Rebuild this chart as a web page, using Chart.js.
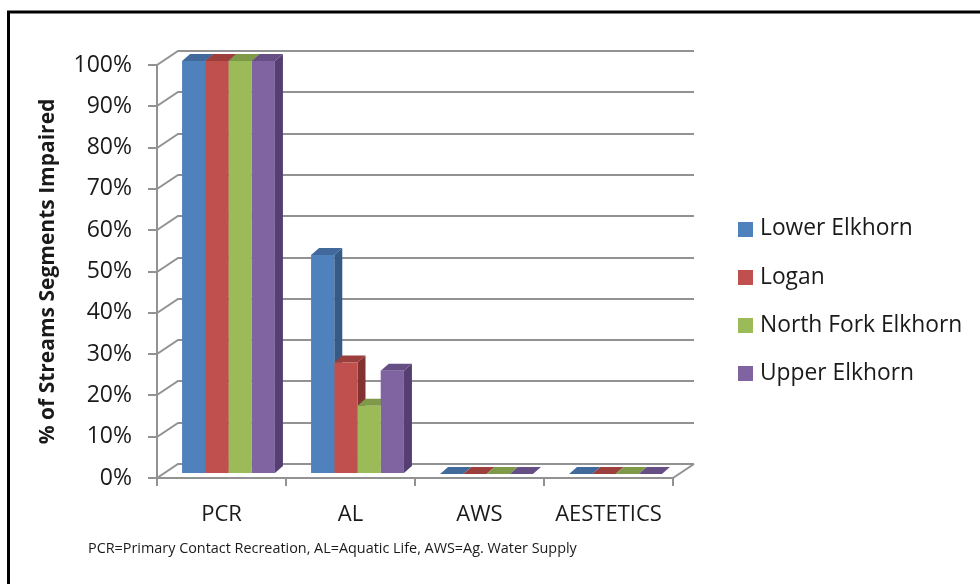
<!DOCTYPE html>
<html>
<head>
<meta charset="utf-8">
<script src="https://cdn.jsdelivr.net/npm/chart.js@4/dist/chart.umd.min.js"></script>
<style>
html,body{margin:0;padding:0;background:#fff;}
#wrap{width:980px;height:584px;position:relative;}
</style>
</head>
<body>
<div id="wrap"><canvas id="c" width="980" height="584"></canvas></div>
<script>
// ---- data ----
const categories = ['PCR', 'AL', 'AWS', 'AESTETICS'];
const seriesNames = ['Lower Elkhorn', 'Logan', 'North Fork Elkhorn', 'Upper Elkhorn'];
const lowerElkhorn = [1.00, 0.53, 0, 0];
const logan = [1.00, 0.27, 0, 0];
const northForkElkhorn = [1.00, 0.165, 0, 0];
const upperElkhorn = [1.00, 0.25, 0, 0];
const yTickValues = [0, 0.1, 0.2, 0.3, 0.4, 0.5, 0.6, 0.7, 0.8, 0.9, 1.0];
const yTitle = '% of Streams Segments Impaired';
const footnote = 'PCR=Primary Contact Recreation, AL=Aquatic Life, AWS=Ag. Water Supply';

// ---- styles ----
const frontColors = ['#4F81BD', '#C0504D', '#9BBB59', '#8064A2'];
const topColors = ['#41699B', '#9B3E3C', '#7E9A48', '#664F85'];
const sideColors = ['#355A86', '#833230', '#6C873B', '#553F72'];
const GRID = '#929292';
const TEXT = '#1a1a1a';
const FONT = "'Open Sans', 'Noto Sans', sans-serif";
const WALL_DX = 21, WALL_DY = -14;
const BAR_DX = 7, BAR_DY = -4, BAR_DEPTH_X = 8, BAR_DEPTH_Y = -7;

const seriesValues = [lowerElkhorn, logan, northForkElkhorn, upperElkhorn];

const threeD = {
  id: 'threeD',
  beforeDraw(chart) {
    const {ctx, chartArea: a, scales: {y}} = chart;
    ctx.save();
    ctx.fillStyle = '#fff';
    ctx.fillRect(0, 0, chart.width, chart.height);
    ctx.strokeStyle = GRID;
    ctx.lineWidth = 2;
    yTickValues.forEach(v => {
      const py = Math.round(y.getPixelForValue(v));
      ctx.beginPath();
      ctx.moveTo(a.left, py);
      ctx.lineTo(a.left + WALL_DX, py + WALL_DY);
      ctx.lineTo(a.right + WALL_DX, py + WALL_DY);
      ctx.stroke();
    });
    ctx.beginPath();
    ctx.moveTo(a.right, a.bottom);
    ctx.lineTo(a.right + WALL_DX, a.bottom + WALL_DY);
    ctx.stroke();
    ctx.restore();
  },
  beforeDatasetsDraw(chart) {
    const ctx = chart.ctx;
    ctx.save();
    ctx.translate(BAR_DX, BAR_DY);
    const n = chart.data.labels.length;
    for (let i = 0; i < n; i++) {
      chart.data.datasets.forEach((ds, di) => {
        const el = chart.getDatasetMeta(di).data[i];
        const {x, y, base, width} = el.getProps(['x', 'y', 'base', 'width'], true);
        const l = x - width / 2, r = x + width / 2;
        ctx.fillStyle = sideColors[di];
        ctx.beginPath();
        ctx.moveTo(r, y);
        ctx.lineTo(r + BAR_DEPTH_X, y + BAR_DEPTH_Y);
        ctx.lineTo(r + BAR_DEPTH_X, base + BAR_DEPTH_Y);
        ctx.lineTo(r, base);
        ctx.closePath();
        ctx.fill();
        ctx.fillStyle = topColors[di];
        ctx.beginPath();
        ctx.moveTo(l, y);
        ctx.lineTo(l + BAR_DEPTH_X, y + BAR_DEPTH_Y);
        ctx.lineTo(r + BAR_DEPTH_X, y + BAR_DEPTH_Y);
        ctx.lineTo(r, y);
        ctx.closePath();
        ctx.fill();
      });
    }
    ctx.restore();
    ctx.save();
    ctx.translate(BAR_DX, BAR_DY);
  },
  afterDatasetsDraw(chart) {
    chart.ctx.restore();
  },
  afterDraw(chart) {
    const ctx = chart.ctx;
    ctx.save();
    // legend
    ctx.font = "22.8px " + FONT;
    ctx.textBaseline = 'middle';
    ctx.textAlign = 'left';
    chart.data.datasets.forEach((ds, di) => {
      const cy = 229 + di * 48.3;
      ctx.fillStyle = ds.backgroundColor;
      ctx.fillRect(738, Math.round(cy - 7.5), 15, 15);
      ctx.fillStyle = TEXT;
      ctx.fillText(ds.label, 760, cy);
    });
    // footnote
    ctx.font = "14.4px " + FONT;
    ctx.fillStyle = TEXT;
    ctx.fillText(footnote, 88, 549);
    // frame
    ctx.strokeStyle = '#000';
    ctx.lineWidth = 3;
    ctx.beginPath();
    ctx.moveTo(8.5, chart.height);
    ctx.lineTo(8.5, 12);
    ctx.lineTo(chart.width, 12);
    ctx.stroke();
    ctx.restore();
  }
};

new Chart(document.getElementById('c'), {
  type: 'bar',
  data: {
    labels: categories,
    datasets: seriesNames.map((name, i) => ({
      label: name,
      data: seriesValues[i],
      backgroundColor: frontColors[i],
      borderWidth: 0,
      categoryPercentage: 0.72,
      barPercentage: 1.0,
      clip: false
    }))
  },
  options: {
    responsive: false,
    animation: false,
    devicePixelRatio: 1,
    layout: {padding: {left: 31, top: 65, right: 307, bottom: 0}},
    plugins: {legend: {display: false}, title: {display: false}, tooltip: {enabled: false}},
    scales: {
      x: {
        grid: {display: true, drawOnChartArea: false, drawTicks: true, tickLength: 8, offset: true, color: GRID, lineWidth: 2},
        border: {display: true, color: GRID, width: 2},
        ticks: {font: {family: FONT, size: 22}, color: TEXT, padding: 16, maxRotation: 0, autoSkip: false},
        afterFit(s) { s.height = 106; }
      },
      y: {
        min: 0, max: 1,
        afterBuildTicks(s) { s.ticks = yTickValues.map(v => ({value: v})); },
        grid: {display: true, drawOnChartArea: false, drawTicks: true, tickLength: 9, color: GRID, lineWidth: 2},
        border: {display: true, color: GRID, width: 2},
        ticks: {font: {family: FONT, size: 23}, color: TEXT, padding: 16, callback: v => Math.round(v * 100) + '%'},
        title: {display: true, text: yTitle, font: {family: FONT, size: 21, weight: 'bold'}, color: TEXT, padding: {top: 4, bottom: 4}},
        afterFit(s) { s.width = 126; }
      }
    }
  },
  plugins: [threeD]
});
</script>
</body>
</html>
